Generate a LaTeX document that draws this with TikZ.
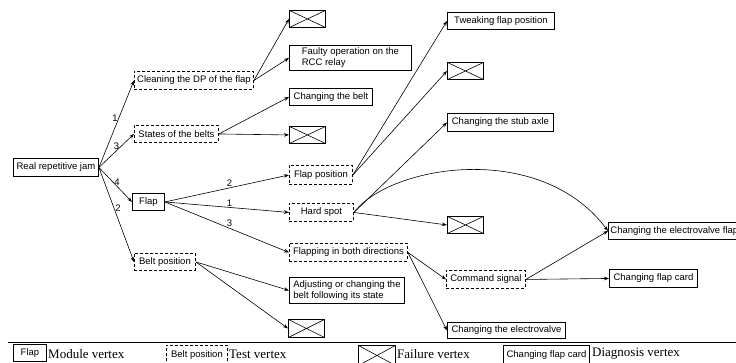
\documentclass[tikz,border=0pt]{standalone}
\usepackage{fontspec}
\setmainfont{Liberation Serif}
\setsansfont{Liberation Sans}
\usetikzlibrary{arrows.meta}
\begin{document}
\begin{tikzpicture}[x=1pt,y=-1pt,
  every node/.style={font=\sffamily\fontsize{9.5}{11}\selectfont, inner sep=1pt},
  vbox/.style={draw, line width=0.9pt, anchor=north west, align=left, inner xsep=2pt},
  diagbox/.style={vbox},
  testbox/.style={vbox, dash pattern=on 3pt off 2pt},
  failbox/.style={draw, line width=0.9pt, anchor=north west, minimum width=36, minimum height=17,
    path picture={\draw[line width=0.6pt] (path picture bounding box.north west) -- (path picture bounding box.south east)
      (path picture bounding box.south west) -- (path picture bounding box.north east);}},
  conn/.style={line width=0.6pt, -{Stealth[length=5pt,width=3.6pt]}},
  lbl/.style={inner sep=1pt},
  legtext/.style={font=\rmfamily\fontsize{13}{15}\selectfont, anchor=west, inner sep=0pt}
]
\useasboundingbox (0,0) rectangle (736,362);

% left column
\node[diagbox, minimum width=85, minimum height=18] (root) at (13,158) {Real repetitive jam};
\node[testbox, minimum width=119, minimum height=18] (clean) at (134,71) {Cleaning the DP of the flap};
\node[testbox, minimum width=84, minimum height=17] (states) at (134,125) {States of the belts};
\node[diagbox, minimum width=32, minimum height=17] (flap) at (132,193) {Flap};
\node[testbox, minimum width=61, minimum height=17] (beltpos) at (134,253) {Belt position};

% middle column
\node[failbox] (f1) at (289,10) {};
\node[diagbox, minimum width=122, minimum height=25] (faulty) at (289,45) {Faulty operation on the\\RCC relay};
\node[diagbox, minimum width=83, minimum height=17] (belt) at (289,88) {Changing the belt};
\node[failbox] (f2) at (289,126) {};
\node[testbox, minimum width=63, minimum height=19] (flappos) at (289,165) {Flap position};
\node[testbox, minimum width=64, minimum height=18] (hard) at (289,203) {Hard spot};
\node[testbox, minimum width=118, minimum height=18] (flapping) at (289,243) {Flapping in both directions};
\node[diagbox, minimum width=115, minimum height=26] (adjust) at (289,277) {Adjusting or changing the\\belt following its state};
\node[failbox, minimum height=18] (f5) at (288,319) {};

% right column
\node[diagbox, minimum width=107, minimum height=17] (tweak) at (447,12) {Tweaking flap position};
\node[failbox] (f3) at (447,62) {};
\node[diagbox, minimum width=106, minimum height=18] (stub) at (447,113) {Changing the stub axle};
\node[failbox] (f4) at (447,216) {};
\node[testbox, minimum width=79, minimum height=18] (command) at (446,270) {Command signal};
\node[diagbox, minimum width=118, minimum height=16] (elec) at (447,322) {Changing the electrovalve};
\node[diagbox, minimum height=17] (evflap) at (608,222) {Changing the electrovalve flap};
\node[diagbox, minimum width=88, minimum height=18] (card) at (609,269) {Changing flap card};

% connectors
\draw[conn] (root.east) -- node[lbl, pos=0.57, left] {1} (clean.west);
\draw[conn] (root.east) -- node[lbl, pos=0.5, above] {3} (states.west);
\draw[conn] (root.east) -- node[lbl, pos=0.55, above] {4} (flap.west);
\draw[conn] (root.east) -- node[lbl, pos=0.43, right] {2} (beltpos.west);

\draw[conn] (clean.east) -- (f1.west);
\draw[conn] (clean.east) -- (faulty.west);
\draw[conn] (states.east) -- (belt.west);
\draw[conn] (states.east) -- (f2.west);

\draw[conn] (flap.east) -- node[lbl, pos=0.52, above] {2} (flappos.west);
\draw[conn] (flap.east) -- node[lbl, pos=0.52, above] {1} (hard.west);
\draw[conn] (flap.east) -- node[lbl, pos=0.52, above] {3} (flapping.west);

\draw[conn] (flappos.east) -- (tweak.west);
\draw[conn] (flappos.east) -- (f3.west);
\draw[conn] (hard.east) -- (stub.west);
\draw[conn] (hard.east) .. controls (390,165) and (540,140) .. (evflap.west);
\draw[conn] (hard.east) -- (f4.west);
\draw[conn] (flapping.east) -- (command.west);
\draw[conn] (flapping.east) -- (elec.west);
\draw[conn] (command.east) -- (evflap.west);
\draw[conn] (command.east) -- (card.west);

\draw[conn] (beltpos.east) -- (adjust.west);
\draw[conn] (beltpos.east) -- (f5.west);

% legend
\draw[line width=0.9pt] (8,342) -- (736,342);
\node[diagbox, minimum width=33, minimum height=17] (legflap) at (13,344) {Flap};
\node[legtext] (legmod) at (48,354) {Module vertex};
\node[testbox, minimum width=61, minimum height=20] (legbelt) at (166,345) {Belt position};
\node[legtext] (legtest) at (229,354) {Test vertex};
\node[failbox, minimum width=37, minimum height=20] (legfail) at (358,345) {};
\node[legtext] (legfailt) at (397,354) {Failure vertex};
\node[diagbox, minimum width=86, minimum height=20] (legcard) at (503,345) {Changing flap card};
\node[legtext] (legdiag) at (592,354) {Diagnosis vertex};
\end{tikzpicture}
\end{document}
